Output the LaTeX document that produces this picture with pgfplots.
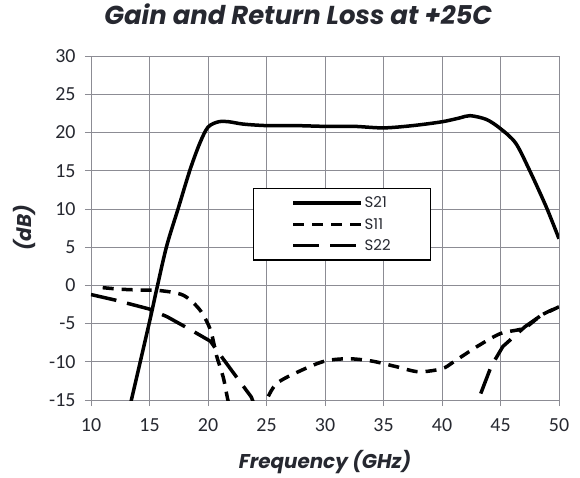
\documentclass[border=0pt]{standalone}
\usepackage{fontspec}
\setmainfont{Poppins}
\newfontfamily\tickfont{Carlito}
\usepackage{pgfplots}
\pgfplotsset{compat=1.18}
\definecolor{gridgray}{RGB}{140,140,148}
\definecolor{txt}{RGB}{38,40,48}
\begin{document}
\begin{tikzpicture}
\begin{axis}[
    name=ax,
    scale only axis,
    width=468bp, height=344bp,
    xmin=10, xmax=50, ymin=-15, ymax=30,
    xtick={10,15,...,50}, ytick={-15,-10,...,30},
    xtick pos=bottom, ytick pos=left,
    tick align=outside, major tick length=6bp,
    grid=major,
    grid style={color=gridgray, line width=0.8bp},
    axis line style={draw=gridgray, line width=0.8bp},
    tick style={color=gridgray, line width=0.8bp},
    /pgf/number format/assume math mode=true,
    ticklabel style={font=\tickfont\fontsize{20}{24}\selectfont, text=txt},
    xticklabel style={yshift=-9bp},
    yticklabel style={xshift=-6bp},
    title={Gain and Return Loss at +25C},
    title style={font=\fontsize{26}{30}\selectfont\bfseries\itshape, text=txt,
        at={(rel axis cs:0.443,1)}, anchor=base, yshift=26bp},
    xlabel={Frequency (GHz)},
    xlabel style={at={(rel axis cs:0.5,0)}, anchor=base, yshift=-68bp},
    ylabel={(dB)},
    ylabel style={at={(rel axis cs:0,0.5)}, anchor=center, yshift=67bp},
    label style={font=\fontsize{20}{24}\selectfont\bfseries\itshape, text=txt},
    legend style={at={(rel axis cs:0.346,0.616)}, anchor=north west, draw=black,
        line width=1.2bp, fill=white, font=\fontsize{15}{18}\selectfont,
        text=txt, inner xsep=38bp, inner ysep=6bp, row sep=5bp},
    legend cell align=left,
    legend image code/.code={\draw[#1, line width=3.2bp] (0bp,0bp) -- (68bp,0bp);},
]
\addplot[black, line width=3.5bp, smooth] coordinates {
(13.0,-17.8)(13.45,-15)(15.04,-4.5)(15.6,-0.6)(16.46,5.1)(17.46,10.1)
(18.46,15.1)(19.3,18.6)(20.0,20.7)(20.9,21.4)(21.8,21.4)(23,21.1)(25,20.9)
(27.5,20.9)(30,20.8)(32.5,20.8)(35,20.6)(37.5,20.9)(40,21.4)(41.5,21.9)
(42.4,22.2)(43.8,21.7)(45,20.5)(46.3,18.6)(47.5,15)(48.9,10.3)(50,6.1)
};
\addlegendentry{S21}
\addplot[black, line width=3.5bp, dash pattern=on 11bp off 8bp, smooth] coordinates {
(11,-0.3)(12.5,-0.5)(14,-0.6)(16,-0.7)(17.9,-1.3)(19.3,-3.2)(20.2,-5.8)
(20.75,-9.3)(21.3,-12)(21.7,-15)(22.3,-19)(23.2,-21)(24.3,-17.5)(25,-15)
(25.9,-12.8)(28,-11.1)(30,-9.9)(32,-9.6)(34,-9.9)(36,-10.6)(38,-11.3)(40,-10.9)
(41,-10)(43,-8)(45,-6.3)(47,-5.6)(48.5,-3.9)(50,-2.8)
};
\addlegendentry{S11}
\addplot[black, line width=3.5bp, dash pattern=on 26bp off 11bp] coordinates {
(10,-1.2)(12,-1.9)(13.5,-2.5)(15,-3.1)(16.5,-4.1)(18.5,-5.8)(20.2,-7.3)
(21,-9)(22.2,-11.5)(23.7,-14.6)(24.3,-17)(25,-22)(42,-22)(42.6,-17.5)(43.1,-15)
(44.2,-10.6)(45.2,-8)(47.1,-5.4)(48.5,-3.9)(50,-2.8)
};
\addlegendentry{S22}
\end{axis}
\path ([shift={(-91bp,-77bp)}]ax.south west) rectangle ([shift={(21bp,56bp)}]ax.north east);
\end{tikzpicture}
\end{document}
